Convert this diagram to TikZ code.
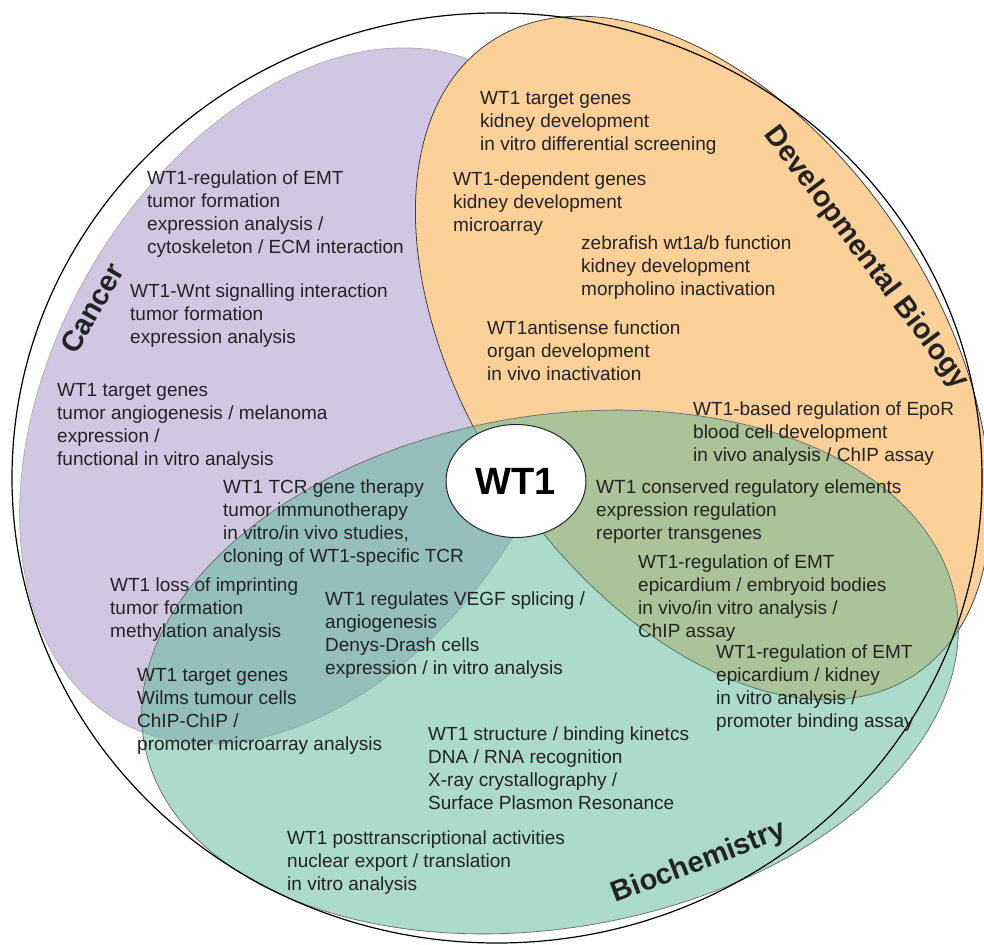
\documentclass[tikz,border=0pt]{standalone}
\usepackage{fontspec}
\setmainfont{Liberation Sans}
\usetikzlibrary{shapes.geometric}
\definecolor{cancerfill}{RGB}{208,200,226}
\definecolor{devfill}{RGB}{252,208,153}
\definecolor{biofill}{RGB}{89,183,153}
\definecolor{txtgray}{RGB}{35,35,35}

\begin{document}
\begin{tikzpicture}[x=1pt, y=-1pt,
  entry/.style={anchor=north west, align=left, inner sep=0pt, text=txtgray, font=\fontsize{19}{23}\selectfont},
  field/.style={inner sep=0pt, text=txtgray, font=\bfseries\fontsize{29}{29}\selectfont}]
\useasboundingbox (0,0) rectangle (984,944);
\draw[gray!60, line width=0.8pt, fill=cancerfill, rotate around={60:(306,396)}] (306,396) ellipse [x radius=375, y radius=250];
\draw[black!75, line width=0.8pt, fill=devfill, rotate around={-56:(703,358)}] (703,358) ellipse [x radius=381, y radius=233];
\draw[black!55, line width=0.8pt, fill=biofill, fill opacity=0.5, rotate around={9.8:(550,672)}] (550,672) ellipse [x radius=412, y radius=256];
\draw[black, line width=1.2pt] (497,478) ellipse [x radius=485, y radius=465];
\node[ellipse, draw=black!85, line width=1pt, fill=white, minimum width=140pt, minimum height=113pt, inner sep=0pt, font=\bfseries\fontsize{38}{38}\selectfont] (wt1) at (516,481) {WT1};

\node[field, rotate=60] (lcancer) at (92,308) {Cancer};
\node[field, rotate=-53] (ldev) at (866,258) {Developmental Biology};
\node[field, rotate=21] (lbio) at (699,863) {Biochemistry};

\node[entry] (can1) at (147,171) {WT1-regulation of EMT\\tumor formation\\expression analysis /\\cytoskeleton / ECM interaction};
\node[entry] (can2) at (130,284) {WT1-Wnt signalling interaction\\tumor formation\\expression analysis};
\node[entry] (can3) at (57,383) {WT1 target genes\\tumor angiogenesis / melanoma\\expression /\\functional in vitro analysis};
\node[entry] (can4) at (223,480) {WT1 TCR gene therapy\\tumor immunotherapy\\in vitro/in vivo studies,\\cloning of WT1-specific TCR};
\node[entry] (can5) at (110,578) {WT1 loss of imprinting\\tumor formation\\methylation analysis};
\node[entry] (can6) at (137,668) {WT1 target genes\\Wilms tumour cells\\ChIP-ChIP /\\promoter microarray analysis};
\node[entry] (can7) at (325,592) {WT1 regulates VEGF splicing /\\angiogenesis\\Denys-Drash cells\\expression / in vitro analysis};

\node[entry] (dev1) at (480,91) {WT1 target genes\\kidney development\\in vitro differential screening};
\node[entry] (dev2) at (453,172) {WT1-dependent genes\\kidney development\\microarray};
\node[entry] (dev3) at (581,236) {zebrafish wt1a/b function\\kidney development\\morpholino inactivation};
\node[entry] (dev4) at (487,321) {WT1antisense function\\organ development\\in vivo inactivation};
\node[entry] (dev5) at (693,402) {WT1-based regulation of EpoR\\blood cell development\\in vivo analysis / ChIP assay};

\node[entry] (ov1) at (596,480) {WT1 conserved regulatory elements\\expression regulation\\reporter transgenes};
\node[entry] (ov2) at (638,555) {WT1-regulation of EMT\\epicardium / embryoid bodies\\in vivo/in vitro analysis /\\ChIP assay};
\node[entry] (ov3) at (716,645) {WT1-regulation of EMT\\epicardium / kidney\\in vitro analysis /\\promoter binding assay};

\node[entry] (bio1) at (428,727) {WT1 structure / binding kinetcs\\DNA / RNA recognition\\X-ray crystallography /\\Surface Plasmon Resonance};
\node[entry] (bio2) at (287,831) {WT1 posttranscriptional activities\\nuclear export / translation\\in vitro analysis};
\end{tikzpicture}
\end{document}
